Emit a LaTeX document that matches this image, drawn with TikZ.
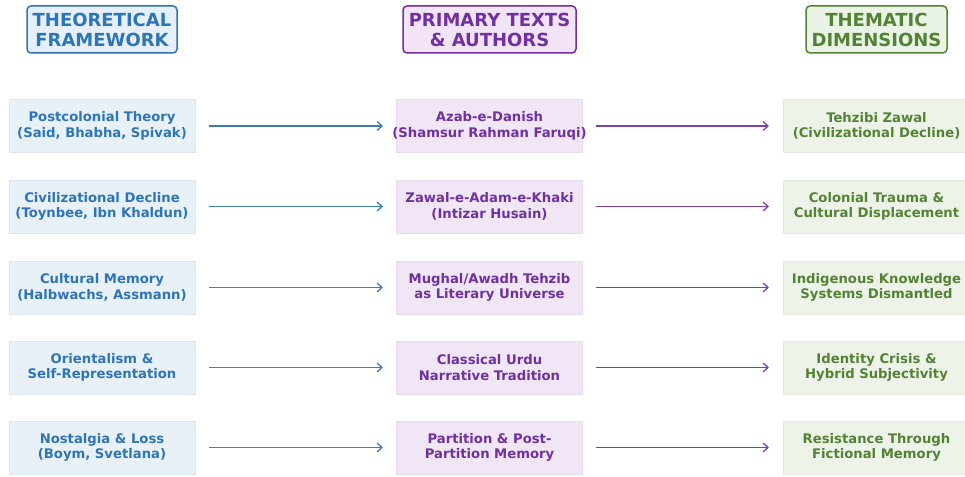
\documentclass[tikz,border=0pt]{standalone}
\usepackage{fontspec}
\setmainfont{DejaVu Sans}
\usetikzlibrary{arrows.meta}
\definecolor{bluetxt}{RGB}{46,117,182}
\definecolor{bluefill}{RGB}{232,240,248}
\definecolor{blueline}{RGB}{218,230,242}
\definecolor{bluehead}{RGB}{230,240,250}
\definecolor{bluearrow}{RGB}{58,125,192}
\definecolor{purtxt}{RGB}{112,48,160}
\definecolor{purfill}{RGB}{240,230,245}
\definecolor{purline}{RGB}{232,218,240}
\definecolor{purhead}{RGB}{242,228,246}
\definecolor{purarrow}{RGB}{128,64,176}
\definecolor{grntxt}{RGB}{84,130,53}
\definecolor{grnfill}{RGB}{237,243,232}
\definecolor{grnline}{RGB}{226,236,220}
\definecolor{grnhead}{RGB}{234,244,230}
\tikzset{
  x=1pt,y=-1pt,
  headbox/.style={draw, line width=1.5pt, rounded corners=4pt, align=center, font=\fontsize{18}{20}\selectfont\bfseries, inner sep=0pt, minimum height=47pt},
  cellbox/.style={draw, line width=1pt, inner sep=0pt, minimum width=186pt, minimum height=53pt},
  celltext/.style={align=center, font=\fontsize{13.2}{15.5}\selectfont\bfseries, inner sep=0pt},
  bluecell/.style={cellbox, fill=bluefill, draw=blueline},
  purcell/.style={cellbox, fill=purfill, draw=purline},
  grncell/.style={cellbox, fill=grnfill, draw=grnline},
  flow/.style={line width=1.4pt, -{Straight Barb[length=5pt,width=9pt,line width=1.3pt]}},
}
\begin{document}
\begin{tikzpicture}
\useasboundingbox (0,0) rectangle (965,476);
\node[headbox, draw=bluetxt, fill=bluehead, text=bluetxt, minimum width=150pt] (h1) at (102,29.5) {THEORETICAL\\FRAMEWORK};
\node[headbox, draw=purtxt, fill=purhead, text=purtxt, minimum width=173pt] (h2) at (489.5,29.5) {PRIMARY TEXTS\\\& AUTHORS};
\node[headbox, draw=grntxt, fill=grnhead, text=grntxt, minimum width=141pt] (h3) at (876.5,29.5) {THEMATIC\\DIMENSIONS};

\foreach \i/\y/\a/\b/\c in {
 1/126/{Postcolonial Theory\\(Said, Bhabha, Spivak)}/{Azab-e-Danish\\(Shamsur Rahman Faruqi)}/{Tehzibi Zawal\\(Civilizational Decline)},
 2/206.5/{Civilizational Decline\\(Toynbee, Ibn Khaldun)}/{Zawal-e-Adam-e-Khaki\\(Intizar Husain)}/{Colonial Trauma \&\\Cultural Displacement},
 3/287.5/{Cultural Memory\\(Halbwachs, Assmann)}/{Mughal/Awadh Tehzib\\as Literary Universe}/{Indigenous Knowledge\\Systems Dismantled},
 4/367.5/{Orientalism \&\\Self-Representation}/{Classical Urdu\\Narrative Tradition}/{Identity Crisis \&\\Hybrid Subjectivity},
 5/447.5/{Nostalgia \& Loss\\(Boym, Svetlana)}/{Partition \& Post-\\Partition Memory}/{Resistance Through\\Fictional Memory}} {
  \node[bluecell] (l\i) at (102,\y) {};
  \node[celltext, text=bluetxt] (lt\i) at (l\i) {\a};
  \node[purcell] (m\i) at (489.5,\y) {};
  \node[celltext, text=purtxt] (mt\i) at (m\i) {\b};
  \node[grncell] (r\i) at (876.5,\y) {};
  \node[celltext, text=grntxt] (rt\i) at (r\i) {\c};
  \draw[flow, draw=bluearrow] ([xshift=13pt]l\i.east) -- ([xshift=-13pt]m\i.west);
  \draw[flow, draw=purarrow] ([xshift=13pt]m\i.east) -- ([xshift=-14pt]r\i.west);
}
\end{tikzpicture}
\end{document}
